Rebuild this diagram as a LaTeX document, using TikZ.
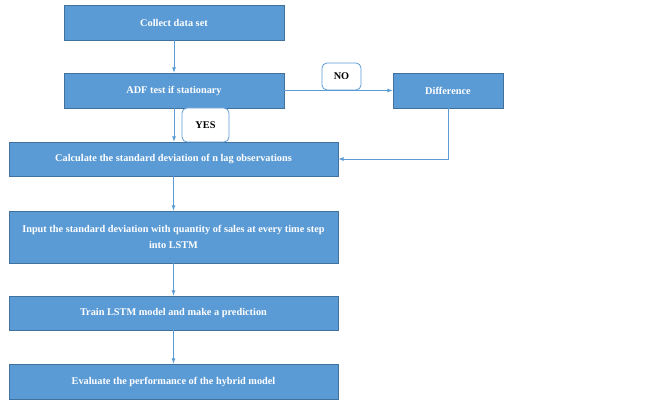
\documentclass[tikz,border=0pt]{standalone}
\usepackage{fontspec}
\setmainfont{Liberation Serif}
\definecolor{boxblue}{HTML}{5B9BD5}
\definecolor{edgeblue}{HTML}{41719C}
\begin{document}
\begin{tikzpicture}[x=1pt,y=1pt]
        \tikzstyle{block} = [rectangle, fill=boxblue, draw=edgeblue, line width=.8, text=white, align=center, font=\fontsize{10.3}{15.5}\selectfont\bfseries, inner sep=2pt]
        \tikzstyle{tag} = [rectangle, rounded corners=5pt, fill=white, draw=boxblue, line width=.8, text=black, font=\fontsize{10.3}{13}\selectfont\bfseries]
        \tikzstyle{line} = [-latex,draw=boxblue,line width=.8]
        \useasboundingbox (0,0) rectangle (665,402);
        \node[block,minimum width=220,minimum height=35] (collect) at (174,379.5) {Collect data set};
        \node[block,minimum width=220,minimum height=35] (adf) at (174,311.5) {ADF test if stationary};
        \node[block,minimum width=110,minimum height=35] (diff) at (448,311.5) {Difference};
        \node[block,minimum width=329,minimum height=34] (calc) at (173.5,243) {Calculate the standard deviation of n lag observations};
        \node[block,minimum width=329,minimum height=52] (input) at (173.5,165) {Input the standard deviation with quantity of sales at every time step\\ into LSTM};
        \node[block,minimum width=329,minimum height=34] (train) at (173.5,89) {Train LSTM model and make a prediction};
        \node[block,minimum width=329,minimum height=35] (eval) at (173.5,20.5) {Evaluate the performance of the hybrid model};
        \draw[line] (collect) to (adf);
        \draw[line] (adf) to (adf |- calc.north);
        \draw[line] (adf) to (diff);
        \draw[line] (diff.south) |- (calc.east);
        \draw[line] (calc) to (calc |- input.north);
        \draw[line] (input) to (input |- train.north);
        \draw[line] (train) to (train |- eval.north);
        \node[tag,minimum width=39,minimum height=27] (no) at (341.5,325.5) {NO};
        \node[tag,minimum width=47,minimum height=34] (yes) at (205.5,277) {YES};
    \end{tikzpicture}
\end{document}
